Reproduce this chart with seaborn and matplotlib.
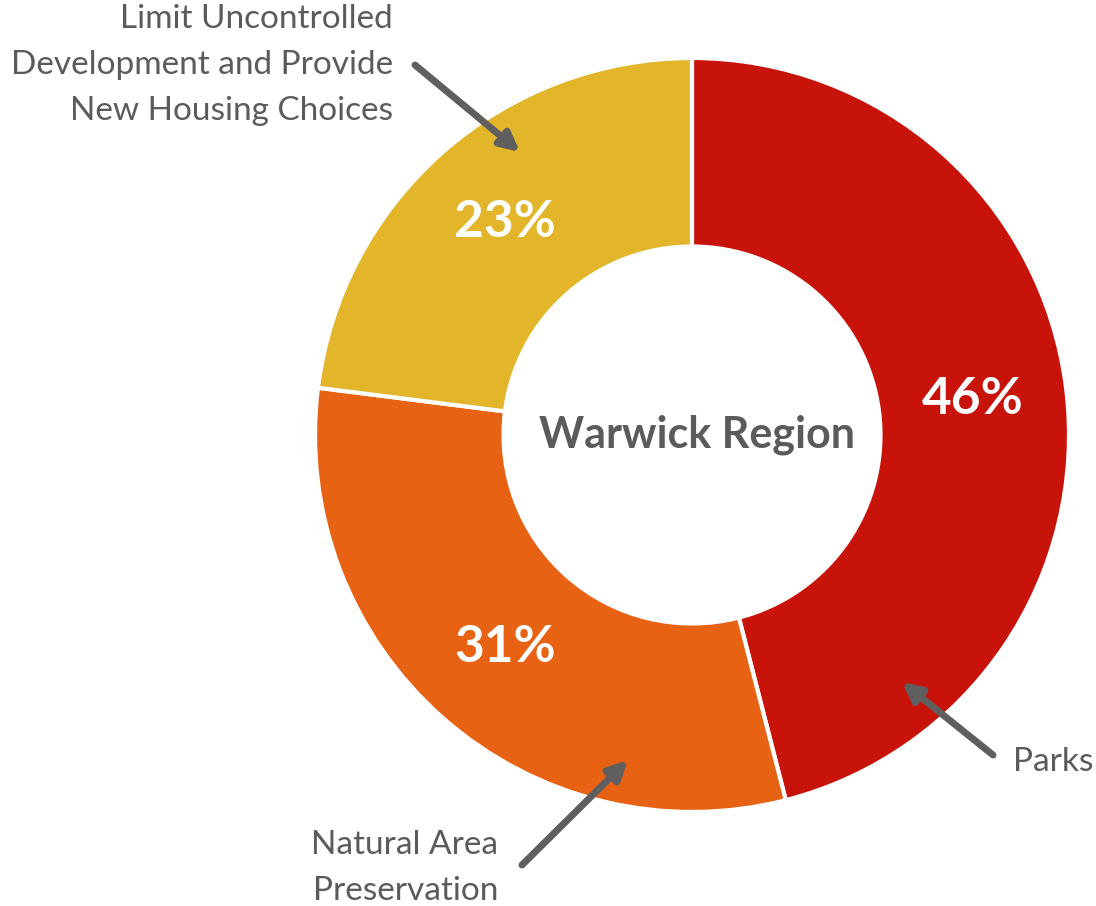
import matplotlib
matplotlib.use("Agg")
import matplotlib.pyplot as plt
import seaborn as sns

# data
categories = ["Parks", "Natural Area\nPreservation",
              "Limit Uncontrolled\nDevelopment and Provide\nNew Housing Choices"]
shares = [46, 31, 23]
colors = ["#C8130A", "#E86213", "#E2B52B"]
center_title = "Warwick Region"

W, H = 1096, 906
GREY = "#5b5b5b"

sns.set_theme(style="white")
plt.rcParams["font.family"] = ["Lato", "DejaVu Sans"]

fig = plt.figure(figsize=(W / 100, H / 100), dpi=100)
ax = fig.add_axes([0, 0, 1, 1])
ax.set_aspect("equal")

cx, cy, r = 692, H - 435, 377
wedges, texts, autotexts = ax.pie(
    shares,
    colors=colors,
    center=(cx, cy),
    radius=r,
    startangle=90,
    counterclock=False,
    autopct=lambda p: f"{p:.0f}%",
    pctdistance=0.75,
    wedgeprops=dict(width=r * 0.5, edgecolor="white", linewidth=3),
    textprops=dict(color="white", fontsize=37, fontweight="bold"),
    frame=True,
)
ax.set_xlim(0, W)
ax.set_ylim(0, H)
ax.axis("off")

ax.text(cx + 5, cy, center_title, ha="center", va="center",
        fontsize=31, fontweight="bold", color=GREY)

label_style = dict(fontsize=24, color=GREY, linespacing=1.65)
ax.text(1013, H - 762, categories[0], ha="left", va="center", **label_style)
ax.text(498, H - 868, categories[1], ha="right", va="center", **label_style)
ax.text(393, H - 65, categories[2], ha="right", va="center", **label_style)

arrow = dict(arrowstyle="-|>", lw=5, color="#5f5f5f", mutation_scale=28,
             shrinkA=0, shrinkB=0)
ax.annotate("", xy=(520, H - 152), xytext=(415, H - 65), arrowprops=arrow)
ax.annotate("", xy=(628, H - 760), xytext=(522, H - 865), arrowprops=arrow)
ax.annotate("", xy=(902, H - 682), xytext=(993, H - 755), arrowprops=arrow)

fig.savefig("out.png", dpi=100, facecolor="white")
